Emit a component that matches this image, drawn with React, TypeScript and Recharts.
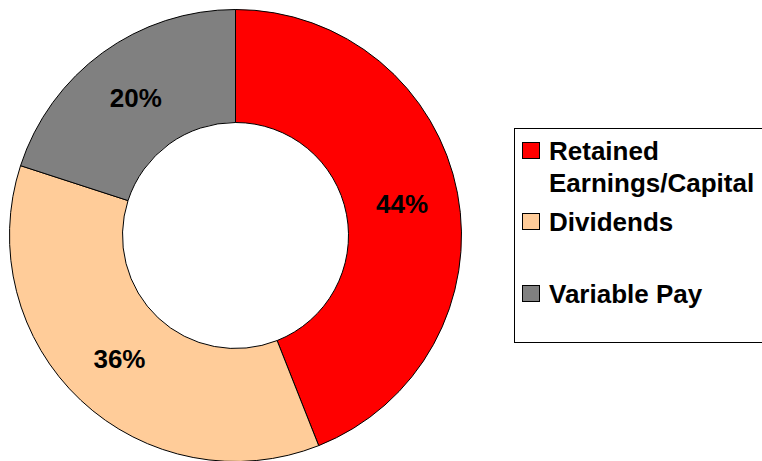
import { Cell, Legend, Pie, PieChart } from "recharts";

const categories = ["Retained Earnings/Capital", "Dividends", "Variable Pay"];
const shares = [44, 36, 20];
const colors = ["#FF0000", "#FFCC99", "#808080"];

const data = categories.map((name, i) => ({ name, value: shares[i] }));

const FONT = "'Liberation Sans', Arial, Helvetica, sans-serif";
const RAD = Math.PI / 180;

// gaps above each legend row, to match the uneven spacing of the original
const rowGaps = [6, 7, 40];

function SliceLabel(props: any) {
  const { cx, cy, midAngle, innerRadius, outerRadius, value } = props;
  const r = (innerRadius + outerRadius) / 2;
  const x = cx + r * Math.cos(-midAngle * RAD);
  const y = cy + r * Math.sin(-midAngle * RAD);
  return (
    <text
      x={x}
      y={y}
      textAnchor="middle"
      dominantBaseline="central"
      fill="#000"
      style={{ fontFamily: FONT, fontWeight: 700, fontSize: 26 }}
    >
      {`${value}%`}
    </text>
  );
}

function LegendBox({ payload }: any) {
  // keep the slice order (recharts sorts legend items by name)
  const items = [...(payload || [])].sort(
    (a: any, b: any) => categories.indexOf(a.value) - categories.indexOf(b.value)
  );
  return (
    <div
      style={{
        boxSizing: "border-box",
        width: 270,
        height: 215,
        border: "1px solid #000",
        background: "#fff",
        fontFamily: FONT,
        fontWeight: 700,
        fontSize: 26,
        lineHeight: "32px",
        color: "#000"
      }}
    >
      {items.map((entry: any, i: number) => (
        <div
          key={entry.value}
          style={{ position: "relative", paddingLeft: 34, marginTop: rowGaps[i], width: 205 }}
        >
          <span
            style={{
              position: "absolute",
              left: 7,
              top: 7,
              width: 18,
              height: 17,
              boxSizing: "border-box",
              border: "1px solid #000",
              background: entry.color
            }}
          />
          {entry.value}
        </div>
      ))}
    </div>
  );
}

export default function App() {
  return (
    <div style={{ position: "absolute", left: 0, top: 0, width: 762, height: 461, background: "#fff", overflow: "hidden" }}>
      <PieChart width={762} height={461} margin={{ top: 0, right: 0, bottom: 0, left: 0 }}>
        <Pie
          data={data}
          dataKey="value"
          nameKey="name"
          cx={235.5}
          cy={235.5}
          innerRadius={113}
          outerRadius={226}
          startAngle={90}
          endAngle={-270}
          stroke="#000"
          strokeWidth={1}
          label={SliceLabel}
          labelLine={false}
          isAnimationActive={false}
        >
          {data.map((d, i) => (
            <Cell key={d.name} fill={colors[i]} />
          ))}
        </Pie>
        <Legend
          layout="vertical"
          align="right"
          verticalAlign="top"
          content={LegendBox}
          wrapperStyle={{ position: "absolute", left: 514, top: 128, width: 270, right: "auto", bottom: "auto" }}
        />
      </PieChart>
    </div>
  );
}
